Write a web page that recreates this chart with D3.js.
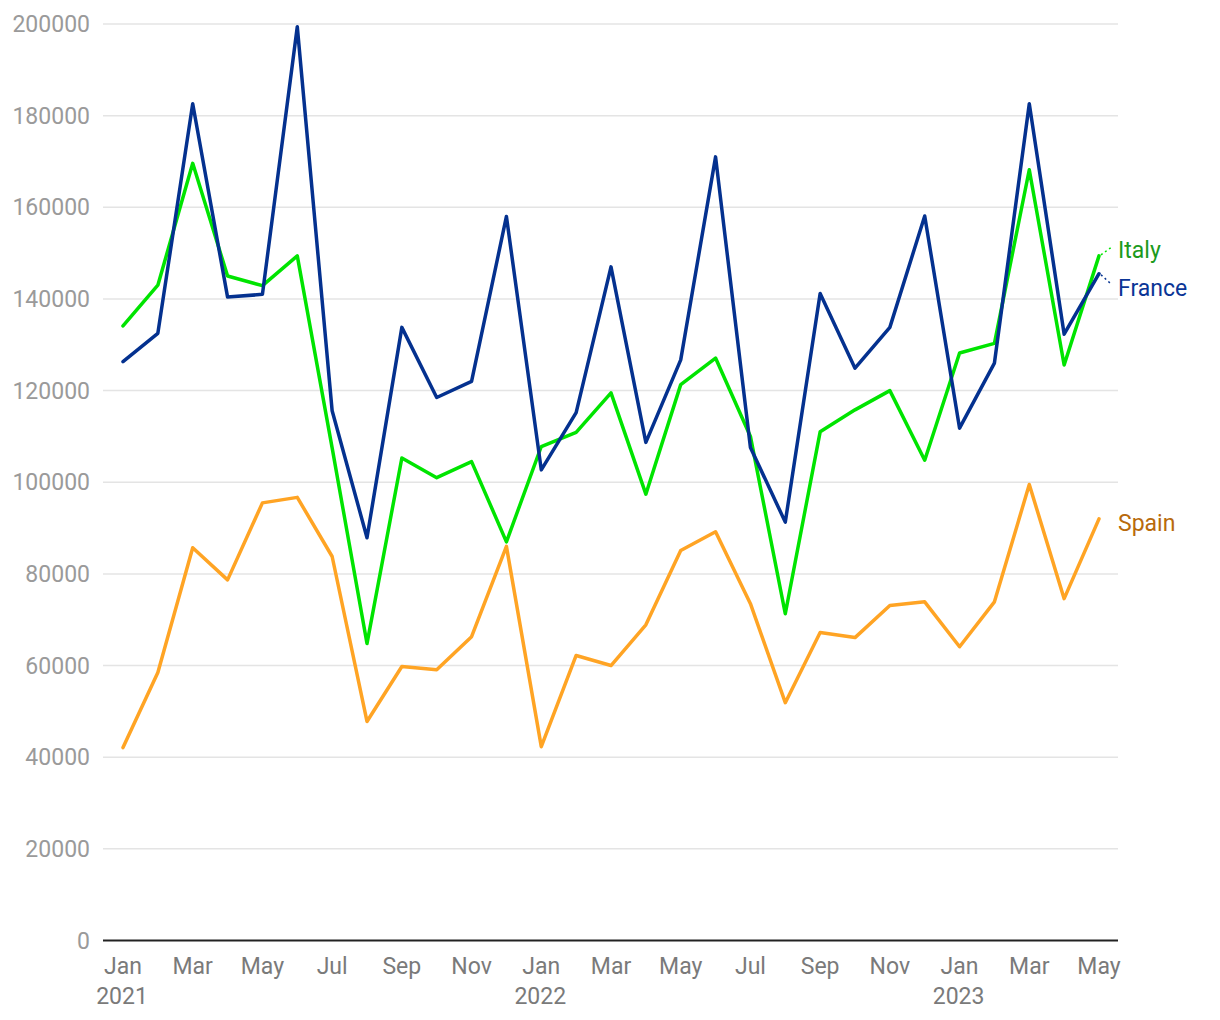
<!DOCTYPE html>
<html>
<head>
<meta charset="utf-8">
<script src="https://cdn.jsdelivr.net/npm/d3@7"></script>
<style>
  body { margin: 0; background: #fff; }
  svg text { font-family: Roboto, "Noto Sans", sans-serif; }
</style>
</head>
<body>
<script>
// month labels, Jan 2021 .. May 2023
const months = ['Jan','Feb','Mar','Apr','May','Jun','Jul','Aug','Sep','Oct','Nov','Dec',
                'Jan','Feb','Mar','Apr','May','Jun','Jul','Aug','Sep','Oct','Nov','Dec',
                'Jan','Feb','Mar','Apr','May'];
const years = ['2021','2021','2021','2021','2021','2021','2021','2021','2021','2021','2021','2021',
               '2022','2022','2022','2022','2022','2022','2022','2022','2022','2022','2022','2022',
               '2023','2023','2023','2023','2023'];

const italy = [134100,143000,169600,145000,142900,149400,107500,64800,105300,101000,104500,87000,
               107800,110900,119500,97400,121300,127100,110000,71300,111000,115800,120000,104800,
               128200,130300,168200,125600,149400];
const france = [126300,132500,182600,140400,141000,199400,115600,87900,133800,118500,122000,158000,
                102700,115200,147000,108700,126700,171000,107600,91300,141200,124900,133800,158100,
                111800,126000,182600,132300,145500];
const spain = [42100,58500,85700,78700,95500,96700,83800,47800,59800,59100,66300,86000,
               42300,62200,60000,68900,85100,89200,73500,51900,67200,66100,73100,73900,
               64100,73900,99500,74600,92000];

const yTicks = [0,20000,40000,60000,80000,100000,120000,140000,160000,180000,200000];

const series = [
  {name:'Italy', values: italy, line:'#00e400', label:'#1c9a1c'},
  {name:'France', values: france, line:'#04318f', label:'#0a3596'},
  {name:'Spain', values: spain, line:'#ffa424', label:'#b86a0c'}
];

const W = 1220, H = 1020;
const svg = d3.select('body').append('svg').attr('width', W).attr('height', H);

const plotL = 103, plotR = 1118;
const x = d3.scaleLinear().domain([0, months.length - 1]).range([123, 1099]);
const y = d3.scaleLinear().domain([0, 200000]).range([940.5, 24]);

// gridlines + y labels
const yAxisG = svg.append('g');
yAxisG.selectAll('line').data(yTicks.filter(d => d > 0)).enter().append('line')
  .attr('x1', plotL).attr('x2', plotR)
  .attr('y1', d => y(d)).attr('y2', d => y(d))
  .attr('stroke', '#e4e4e4').attr('stroke-width', 1.5);
yAxisG.selectAll('text').data(yTicks).enter().append('text')
  .attr('x', 90).attr('y', d => y(d) + 8)
  .attr('text-anchor', 'end')
  .attr('font-size', 23).attr('fill', '#9a9a9a')
  .text(d => d);

// lines
const line = d3.line().x((d, i) => x(i)).y(d => y(d));
svg.selectAll('path.series').data(series).enter().append('path')
  .attr('class', 'series')
  .attr('d', d => line(d.values))
  .attr('fill', 'none')
  .attr('stroke', d => d.line)
  .attr('stroke-width', 3.5)
  .attr('stroke-linejoin', 'round')
  .attr('stroke-linecap', 'round');

// x axis baseline
svg.append('line')
  .attr('x1', plotL).attr('x2', plotR)
  .attr('y1', y(0)).attr('y2', y(0))
  .attr('stroke', '#222').attr('stroke-width', 2);

// x labels every 2 months
const xIdx = d3.range(0, months.length, 2);
const xAxisG = svg.append('g');
xAxisG.selectAll('text.m').data(xIdx).enter().append('text')
  .attr('class', 'm')
  .attr('x', i => x(i)).attr('y', 974)
  .attr('text-anchor', 'middle')
  .attr('font-size', 23).attr('fill', '#7a7a7a')
  .text(i => months[i]);
xAxisG.selectAll('text.yr').data(xIdx.filter(i => months[i] === 'Jan')).enter().append('text')
  .attr('class', 'yr')
  .attr('x', i => x(i) - 1).attr('y', 1004)
  .attr('text-anchor', 'middle')
  .attr('font-size', 23).attr('fill', '#7a7a7a')
  .text(i => years[i]);

// end labels with simple collision avoidance
const last = months.length - 1;
const labels = series.map(s => ({s: s, py: y(s.values[last]), ly: y(s.values[last]) + 4}));
labels.sort((a, b) => a.ly - b.ly);
const gap = 38;
for (let k = 0; k < 20; k++) {
  for (let j = 1; j < labels.length; j++) {
    const d = labels[j].ly - labels[j - 1].ly;
    if (d < gap) {
      const shift = (gap - d) / 2;
      labels[j].ly += shift;
      labels[j - 1].ly -= shift;
    }
  }
}
const lx = 1118;
labels.forEach(l => {
  if (Math.abs(l.ly - l.py) > 5) {
    svg.append('line')
      .attr('x1', x(last) + 2).attr('y1', l.py + (l.ly < l.py ? -1 : 1))
      .attr('x2', lx - 6).attr('y2', l.ly - 3)
      .attr('stroke', l.s.line).attr('stroke-width', 1.5)
      .attr('stroke-dasharray', '2,3');
  }
  svg.append('text')
    .attr('x', lx).attr('y', l.ly + 8)
    .attr('font-size', 23).attr('fill', l.s.label)
    .text(l.s.name);
});
</script>
</body>
</html>
